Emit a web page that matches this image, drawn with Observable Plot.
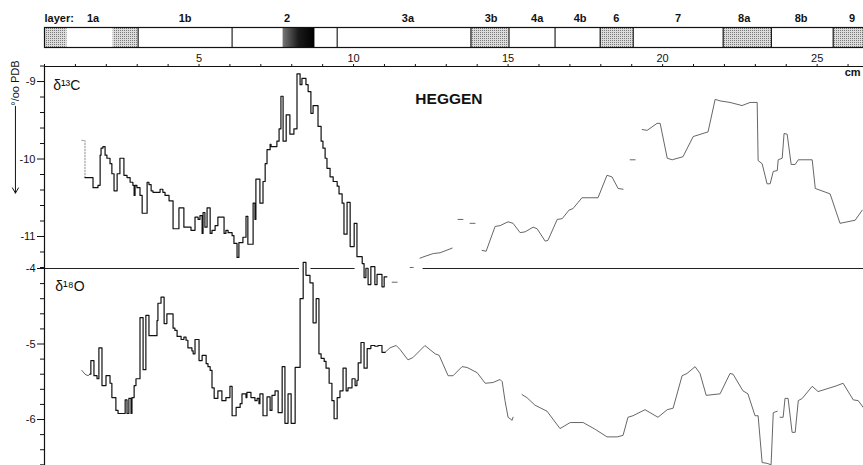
<!DOCTYPE html>
<html><head><meta charset="utf-8">
<script src="https://cdn.jsdelivr.net/npm/d3@7"></script>
<script src="https://cdn.jsdelivr.net/npm/@observablehq/plot@0.6"></script>
<style>
body{margin:0;background:#fff;}
#chart{position:relative;width:863px;height:465px;overflow:hidden;background:#fff;}
#chart svg{position:absolute;left:0;top:0;}
</style></head><body><div id="chart"></div>
<script>
// ---------- layers (depth in cm) ----------
const layerNames  = ["1a","1b","2","3a","3b","4a","4b","6","7","8a","8b","9"];
const layerLabelX = [1.57,4.55,7.85,11.76,14.45,15.94,17.33,18.50,20.50,22.64,24.48,26.13];
const layerBounds = [3.03,6.07,9.47,13.80,15.03,16.52,17.98,19.05,21.96,23.52,25.52];
const stippleStart = [0,2.22,13.80,17.98,21.96,25.52];
const stippleEnd   = [0.73,3.03,15.03,19.05,23.52,26.5];
const darkStart = [7.72];
const darkEnd   = [8.75];

// ---------- axes ----------
const depthTicks = d3.range(0, 27);
const c13Major = [-9,-10,-11];
const c13Minor = [-8.8,-9.2,-9.4,-9.6,-9.8,-10.2,-10.4,-10.6,-10.8,-11.2,-11.4];
const o18Major = [-4,-5,-6];
const o18Minor = [-4.2,-4.4,-4.6,-4.8,-5.2,-5.4,-5.6,-5.8,-6.2,-6.4,-6.6];
// baseline between the panels (δ18O = -4), drawn in pieces where curves cross it
const baseFrom = [0, 8.62, 12.25];
const baseTo   = [8.25, 10.05, 26.5];

// ---------- δ13C stepped record ----------
const c13StepDepth = [1.31,1.57,1.73,1.80,1.83,1.89,1.96,2.02,2.12,
2.18,2.25,2.35,2.44,2.57,2.67,2.77,2.86,2.90,2.93,
2.99,3.09,3.16,3.32,3.38,3.45,3.51,3.74,3.83,3.90,
4.03,4.16,4.35,4.51,4.74,4.87,4.97,5.03,5.10,5.13,
5.19,5.26,5.36,5.42,5.52,5.61,5.81,5.87,5.94,6.07,
6.13,6.23,6.29,6.42,6.52,6.58,6.75,6.81,6.84,6.97,
7.07,7.14,7.20,7.30,7.33,7.52,7.59,7.65,7.72,7.82,
7.94,8.07,8.17,8.27,8.33,8.46,8.53,8.62,8.69,8.85,
8.95,9.01,9.08,9.14,9.24,9.34,9.47,9.53,9.63,9.69,
9.79,9.89,10.02,10.11,10.28,10.34,10.40,10.47,10.56,10.69,
10.76,10.92,10.99,11.08];
const c13StepValue = [-10.24,-10.37,-10.34,-9.95,-9.86,-9.84,-9.95,-9.99,-10.06,
-10.19,-10.41,-10.19,-9.99,-10.21,-10.24,-10.30,-10.34,-10.47,-10.34,
-10.37,-10.47,-10.70,-10.30,-10.33,-10.41,-10.43,-10.39,-10.43,-10.47,
-10.54,-10.90,-10.63,-10.88,-10.92,-10.75,-10.78,-10.73,-10.96,-10.69,
-10.88,-10.63,-10.96,-10.92,-10.86,-10.75,-10.96,-10.92,-10.95,-10.99,
-11.09,-11.27,-11.08,-11.01,-10.74,-11.10,-10.57,-10.78,-10.26,-10.57,
-10.29,-10.06,-9.88,-9.81,-9.84,-9.77,-9.61,-9.19,-9.77,-9.43,
-9.68,-9.61,-8.90,-9.04,-8.96,-9.04,-9.13,-9.41,-9.31,-9.58,
-9.77,-9.86,-9.99,-10.12,-10.23,-10.29,-10.35,-10.45,-10.57,-10.97,
-10.56,-11.13,-10.83,-11.26,-11.35,-11.53,-11.41,-11.62,-11.39,-11.62,
-11.49,-11.65,-11.52,-11.52];
// faint dotted start of the δ13C record
const c13StartDepth = [1.21,1.31,1.31];
const c13StartValue = [-9.76,-9.76,-10.24];

// ---------- δ13C continuous record (segments) ----------
const c13LineSeg = [1,1,2,2,3,3,3,3,3,4,4,5,5,
6,6,6,6,6,6,6,6,6,6,6,6,6,6,6,6,6,6,6,6,6,6,
7,7,
8,8,8,8,8,8,8,8,8,8,8,8,8,8,8,8,8,8,8,8,8,8,8,8,8,8,8,8,8,8,8,8,8,8];
const c13LineDepth = [11.25,11.41,11.83,11.93,12.15,12.28,12.58,12.80,13.19,13.38,13.54,13.77,13.93,
14.16,14.29,14.58,14.74,15.00,15.16,15.39,15.55,15.81,15.94,16.20,16.29,16.59,16.75,16.97,17.10,17.39,17.91,18.20,18.36,18.56,18.72,
18.95,19.11,
19.34,19.50,19.82,19.92,20.15,20.31,20.66,20.99,21.47,21.70,21.86,22.18,22.57,22.83,23.06,23.09,23.22,23.38,23.48,23.58,23.71,23.74,23.87,23.93,24.03,24.16,24.29,24.39,24.84,24.94,25.42,25.74,26.23,26.46];
const c13LineValue = [-11.59,-11.59,-11.40,-11.40,-11.28,-11.26,-11.22,-11.21,-11.15,-10.78,-10.78,-10.83,-10.83,
-11.18,-11.19,-10.87,-10.86,-10.81,-10.83,-10.95,-10.94,-10.88,-10.90,-11.06,-11.05,-10.78,-10.77,-10.66,-10.64,-10.50,-10.50,-10.21,-10.23,-10.38,-10.39,
-10.01,-10.01,
-9.62,-9.63,-9.54,-9.54,-9.99,-10.01,-9.97,-9.71,-9.65,-9.23,-9.25,-9.27,-9.31,-9.27,-9.27,-10.02,-10.06,-10.32,-10.32,-10.16,-10.15,-10.01,-9.99,-9.67,-9.68,-10.07,-10.07,-10.01,-10.01,-10.38,-10.45,-10.83,-10.79,-10.66];

// ---------- δ18O stepped record ----------
const o18StepDepth = [1.47,1.50,1.60,1.70,1.76,1.86,1.99,2.12,2.18,2.31,
2.38,2.61,2.67,2.73,2.80,2.83,2.90,2.96,3.09,3.19,
3.28,3.38,3.64,3.67,3.77,3.87,3.96,4.16,4.22,4.29,
4.42,4.51,4.58,4.64,4.77,4.81,4.87,5.00,5.10,5.23,
5.29,5.36,5.42,5.49,5.61,5.74,5.87,6.00,6.07,6.20,
6.33,6.39,6.52,6.55,6.68,6.81,6.88,6.94,6.97,7.07,
7.20,7.30,7.36,7.46,7.56,7.69,7.78,7.88,7.98,8.11,
8.27,8.37,8.46,8.59,8.69,8.79,8.88,8.95,9.05,9.11,
9.21,9.30,9.37,9.47,9.56,9.66,9.76,9.82,9.95,10.05,
10.11,10.15,10.24,10.34,10.44,10.56,10.69,10.79,10.92,11.02];
const o18StepValue = [-5.40,-5.22,-5.42,-5.46,-5.05,-5.55,-5.42,-5.52,-5.71,-5.88,
-5.92,-5.74,-5.92,-5.72,-5.92,-5.71,-5.55,-5.46,-4.65,-5.34,
-4.62,-4.89,-4.69,-4.46,-4.38,-4.73,-4.60,-4.79,-4.82,-4.90,
-4.94,-4.91,-4.95,-5.05,-5.09,-5.13,-4.94,-5.22,-5.15,-5.26,
-5.30,-5.35,-5.58,-5.72,-5.62,-5.75,-5.71,-5.56,-5.95,-5.84,
-5.79,-5.66,-5.71,-5.64,-5.71,-5.75,-5.72,-5.79,-5.66,-5.95,
-5.70,-5.88,-5.68,-5.62,-5.91,-5.30,-6.05,-5.66,-6.05,-5.31,
-4.40,-3.92,-4.09,-4.19,-4.72,-4.40,-5.13,-5.19,-5.23,-5.32,
-5.52,-5.75,-5.99,-5.71,-5.62,-5.32,-5.62,-5.58,-5.46,-5.55,
-5.48,-5.25,-4.98,-5.32,-5.06,-5.02,-5.03,-5.02,-5.11,-5.11];

// ---------- δ18O continuous record (segments) ----------
const o18LineSeg = [0,0,0,0,
1,1,1,1,1,1,1,1,1,1,1,1,1,1,1,1,1,1,1,1,1,1,
2,2,2,2,2,2,2,2,2,2,2,2,2,2,2,2,2,2,2,2,2,2,2,2,2,2,2,2,2,2,2,2,2,2,
3,3,3,3,3,3,3,3,3,3,3,3,3,3,3,3];
const o18LineDepth = [1.21,1.31,1.41,1.47,
11.02,11.18,11.38,11.50,11.76,11.92,12.31,12.64,12.77,13.06,13.22,13.51,13.67,14.00,14.26,14.51,14.74,14.81,14.90,15.00,15.13,15.16,
15.45,15.61,15.87,16.26,16.68,17.01,17.43,17.82,18.20,18.53,18.72,18.88,19.04,19.43,19.85,20.15,20.34,20.63,20.79,21.05,21.21,21.41,21.86,22.18,22.28,22.60,22.76,22.99,23.09,23.22,23.38,23.51,23.58,23.71,
23.80,23.90,23.96,24.06,24.19,24.29,24.39,24.52,24.84,25.03,25.42,25.58,25.84,26.17,26.33,26.49];
const o18LineValue = [-5.35,-5.40,-5.42,-5.40,
-5.11,-5.05,-5.02,-5.07,-5.21,-5.18,-5.02,-5.13,-5.15,-5.42,-5.42,-5.30,-5.31,-5.38,-5.52,-5.51,-5.47,-5.50,-5.75,-5.97,-6.01,-5.97,
-5.67,-5.71,-5.81,-5.89,-6.12,-6.04,-6.04,-6.13,-6.23,-6.23,-6.21,-5.97,-5.95,-5.87,-5.97,-5.87,-5.85,-5.42,-5.39,-5.30,-5.39,-5.68,-5.66,-5.39,-5.40,-5.62,-5.66,-5.95,-5.95,-6.57,-6.58,-6.60,-5.91,-5.89,
-5.97,-5.97,-5.72,-5.72,-6.17,-6.17,-5.75,-5.72,-5.56,-5.63,-5.58,-5.56,-5.52,-5.74,-5.75,-5.84];

// ---------- annotations ----------
const labelText  = ["δ¹³C","HEGGEN","cm","°/oo PDB"];
const labelDepth = [0.28, 12.0, 26.15, -0.94];
const labelValue = [-9.05, -9.22, -8.88, -9.02];
const arrowDepth = -0.94, arrowFrom = -9.32, arrowTo = -10.44;
const o18Label = {text: "δ¹⁸O", depth: 0.35, value: -4.24};

// ---------- build ----------
const W = 863, ML = 44;
const xDomain = [0, 26.5];
const c13Domain = [-11.413, -8.806];
const o18Domain = [-6.609, -4];
const font = "'Liberation Sans', Arial, Helvetica, sans-serif";
const baseStyle = {fontFamily: font, fontSize: "11px", background: "transparent", overflow: "visible", color: "#111"};
const ink = "#111";

const zipXY = (d, v, s) => d.map((x, i) => ({d: x, v: v[i], s: s ? s[i] : 0}));
const c13Step = zipXY(c13StepDepth, c13StepValue);
const c13Start = zipXY(c13StartDepth, c13StartValue);
const c13Line = zipXY(c13LineDepth, c13LineValue, c13LineSeg);
const o18Step = zipXY(o18StepDepth, o18StepValue);
const o18Line = zipXY(o18LineDepth, o18LineValue, o18LineSeg);
const baseline = baseFrom.map((a, i) => ({a, b: baseTo[i], y: o18Domain[1]}));
const layers = layerNames.map((n, i) => ({name: n, x: layerLabelX[i]}));
const stipple = stippleStart.map((a, i) => ({a, b: stippleEnd[i]}));
const dark = darkStart.map((a, i) => ({a, b: darkEnd[i]}));
const labels = labelText.map((t, i) => ({t, x: labelDepth[i], y: labelValue[i]}));

const chart = document.getElementById("chart");

// δ18O panel (bottom)
const o18 = Plot.plot({
  width: W, height: 465, marginLeft: ML, marginRight: 0, marginTop: 268, marginBottom: 0,
  x: {domain: xDomain, axis: null},
  y: {domain: o18Domain},
  style: baseStyle,
  marks: [
    Plot.ruleY(baseline, {y: "y", x1: "a", x2: "b", stroke: "#222", strokeWidth: 1}),
    Plot.ruleX([xDomain[0]], {stroke: ink, strokeWidth: 1.2}),
    Plot.axisY({anchor: "left", ticks: o18Major, tickSize: 7, tickPadding: 2, tickFormat: d => String(d), fontSize: 11}),
    Plot.axisY({anchor: "left", ticks: o18Minor, tickSize: 4, tickFormat: () => ""}),
    Plot.line(o18Line, {x: "d", y: "v", z: "s", stroke: "#555", strokeWidth: 0.9}),
    Plot.line(o18Step, {x: "d", y: "v", curve: "step-after", stroke: ink, strokeWidth: 1.2}),
    Plot.text([o18Label], {x: "depth", y: "value", text: "text", textAnchor: "start", fontSize: 14})
  ]
});
chart.appendChild(o18);

// δ13C panel (top) with depth axis
const c13 = Plot.plot({
  width: W, height: 300, marginLeft: ML, marginRight: 0, marginTop: 66, marginBottom: 32,
  x: {domain: xDomain},
  y: {domain: c13Domain},
  style: baseStyle,
  marks: [
    Plot.axisX({anchor: "top", ticks: depthTicks, tickSize: 3, tickPadding: 2,
      tickFormat: d => (d > 0 && d % 5 === 0) ? String(d) : "", fontSize: 11}),
    Plot.ruleY([c13Domain[1]], {stroke: ink, strokeWidth: 1}),
    Plot.ruleX([xDomain[0]], {stroke: ink, strokeWidth: 1.2}),
    Plot.axisY({anchor: "left", ticks: c13Major, tickSize: 7, tickPadding: 2, tickFormat: d => String(d), fontSize: 11}),
    Plot.axisY({anchor: "left", ticks: c13Minor, tickSize: 4, tickFormat: () => ""}),
    Plot.line(c13Start, {x: "d", y: "v", stroke: "#888", strokeWidth: 0.9, strokeDasharray: "1.5,1.5"}),
    Plot.line(c13Line, {x: "d", y: "v", z: "s", stroke: "#555", strokeWidth: 0.9}),
    Plot.line(c13Step, {x: "d", y: "v", curve: "step-after", stroke: ink, strokeWidth: 1.2}),
    Plot.text(labels.slice(0, 1), {x: "x", y: "y", text: "t", textAnchor: "start", fontSize: 14}),
    Plot.text(labels.slice(1, 2), {x: "x", y: "y", text: "t", textAnchor: "start", fontSize: 15.5, fontWeight: "bold"}),
    Plot.text(labels.slice(2, 3), {x: "x", y: "y", text: "t", textAnchor: "middle", fontSize: 11, fontWeight: "bold"}),
    Plot.text(labels.slice(3, 4), {x: "x", y: "y", text: "t", rotate: -90, fontSize: 11}),
    Plot.arrow([{x: arrowDepth, y1: arrowFrom, y2: arrowTo}], {x1: "x", x2: "x", y1: "y1", y2: "y2", stroke: ink, strokeWidth: 1, headLength: 9})
  ]
});
chart.appendChild(c13);

// layer bar
const bar = Plot.plot({
  width: W, height: 50, marginLeft: ML, marginRight: 0, marginTop: 27, marginBottom: 3,
  x: {domain: xDomain, axis: null},
  style: baseStyle,
  marks: [
    Plot.rect(stipple, {x1: "a", x2: "b", fill: "url(#stip)"}),
    Plot.rect(dark, {x1: "a", x2: "b", fill: "url(#darkgrad)"}),
    Plot.ruleX(layerBounds, {stroke: ink, strokeWidth: 1.1}),
    Plot.frame({stroke: ink, strokeWidth: 1.2}),
    Plot.text(layers, {x: "x", text: "name", frameAnchor: "top", dy: -13, fontSize: 11, fontWeight: "bold"}),
    Plot.text(["layer:"], {frameAnchor: "top-left", textAnchor: "start", dy: -13, fontSize: 11, fontWeight: "bold"})
  ]
});
const defs = document.createElementNS("http://www.w3.org/2000/svg", "defs");
defs.innerHTML = '<pattern id="stip" width="2" height="2" patternUnits="userSpaceOnUse"><rect width="2" height="2" fill="#dcdcdc"/><rect width="1" height="1" fill="#7a7a7a"/></pattern>' +
  '<linearGradient id="darkgrad" x1="0" x2="1" y1="0" y2="0"><stop offset="0" stop-color="#777"/><stop offset="0.5" stop-color="#1a1a1a"/><stop offset="1" stop-color="#000"/></linearGradient>';
bar.insertBefore(defs, bar.firstChild);
chart.appendChild(bar);
</script></body></html>
